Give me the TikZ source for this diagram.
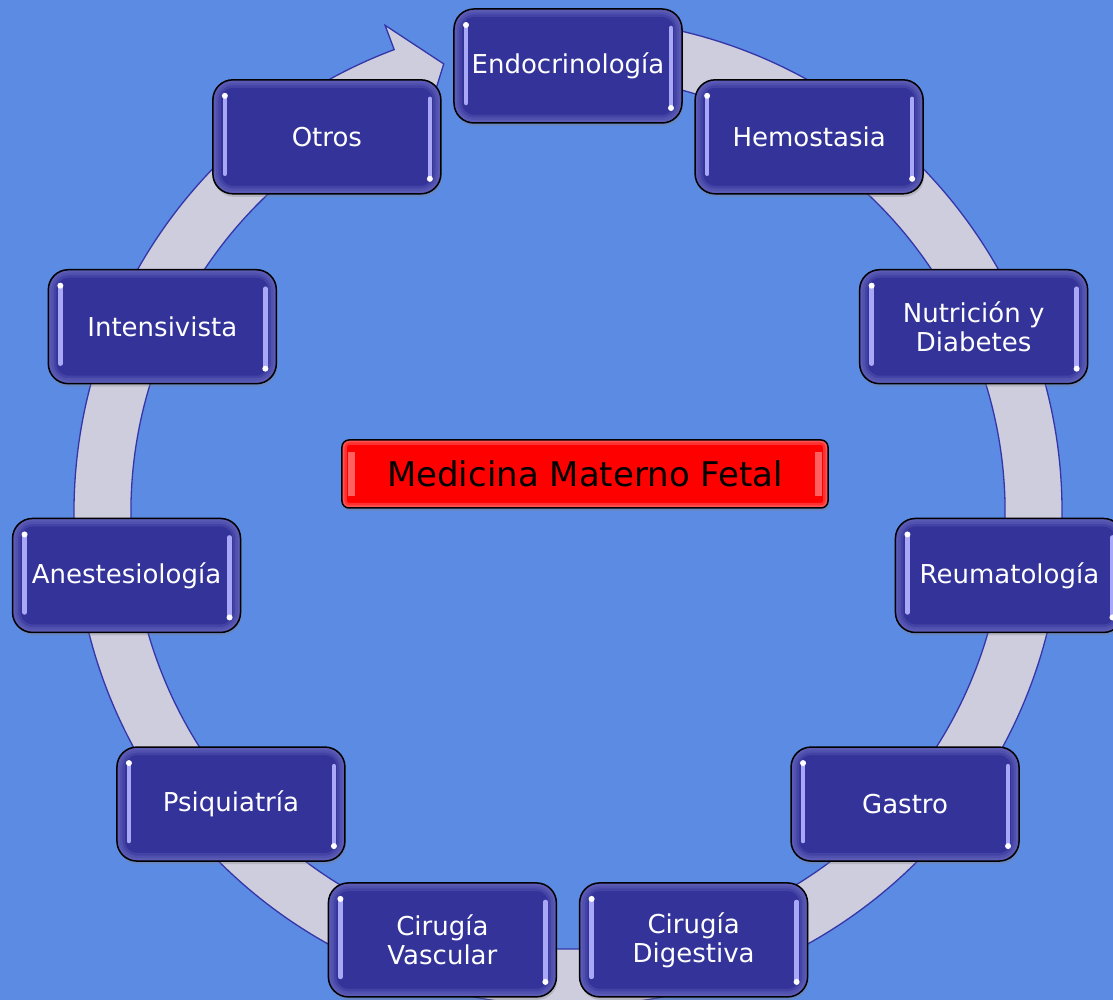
\documentclass[tikz,border=0pt]{standalone}
\usepackage{fontspec}
\setmainfont{DejaVu Sans}
\usetikzlibrary{positioning, calc, shadows}

\definecolor{bgblue}{HTML}{5B8BE2}
\definecolor{boxblue}{HTML}{333399}
\definecolor{boxglow}{HTML}{8080D0}
\definecolor{barlight}{HTML}{A8A8F6}
\definecolor{ringfill}{HTML}{CDCDDE}
\definecolor{ringline}{HTML}{3535A8}
\definecolor{hubglow}{HTML}{FFA0A0}

\tikzstyle{ringarrow}=[fill=ringfill, draw=ringline, line width=1.3pt, line join=miter]
\tikzstyle{specialty}=[draw=black, line width=1.5pt, fill=boxblue, rounded corners=20pt,
  minimum width=228pt, minimum height=114pt, text=white, align=center,
  font=\fontsize{26}{29}\selectfont,
  drop shadow={opacity=0.3, shadow xshift=1pt, shadow yshift=-3pt},
  path picture={%
    \foreach \w in {16,11,6}
      \draw[boxglow, opacity=0.22, line width=\w pt, rounded corners=20pt]
        (path picture bounding box.south west) rectangle (path picture bounding box.north east);
    % left bar, dot on top
    \draw[barlight, line width=4.5pt, line cap=round]
      ($(path picture bounding box.north west)+(12,-16)$) -- ($(path picture bounding box.south west)+(12,20)$);
    \fill[white] ($(path picture bounding box.north west)+(12,-16)$) circle (3pt);
    % right bar, dot at bottom
    \draw[barlight, line width=4.5pt, line cap=round]
      ($(path picture bounding box.north east)+(-11,-19)$) -- ($(path picture bounding box.south east)+(-11,15)$);
    \fill[white] ($(path picture bounding box.south east)+(-11,15)$) circle (3pt);
  }]
\tikzstyle{hub}=[draw=black, line width=1.5pt, fill=red, rounded corners=7pt,
  minimum width=486pt, minimum height=68pt, text=black,
  font=\fontsize{34}{38}\selectfont,
  drop shadow={opacity=0.3, shadow xshift=1pt, shadow yshift=-3pt},
  path picture={%
    \foreach \w in {10,5}
      \draw[hubglow, opacity=0.3, line width=\w pt, rounded corners=7pt]
        (path picture bounding box.south west) rectangle (path picture bounding box.north east);
    \draw[hubglow, opacity=0.6, line width=7pt]
      ($(path picture bounding box.north west)+(10,-12)$) -- ($(path picture bounding box.south west)+(10,12)$);
    \draw[hubglow, opacity=0.6, line width=7pt]
      ($(path picture bounding box.north east)+(-10,-12)$) -- ($(path picture bounding box.south east)+(-10,12)$);
  }]

\begin{document}
\begin{tikzpicture}[x=1pt, y=1pt]
        % background
        \fill[bgblue] (-568,-488) rectangle (545,512);
        \useasboundingbox (-568,-488) rectangle (545,512);

        % circular arrow
        \draw[ringarrow] (85:494) arc[start angle=85, end angle=-249.4, radius=494]
          -- (110.6:520) -- (105.5:465) -- (110.6:410) -- (110.6:437)
          arc[start angle=-249.4, end angle=85, radius=437] -- cycle;

        % centre
        \node[hub] (mmf) at (17,38) {Medicina Materno Fetal};

        % ring of specialties, clockwise from the top
        \node[specialty] (endo)   at (90:446)      {Endocrinología};
        \node[specialty] (hemo)   at (57.27:446)   {Hemostasia};
        \node[specialty] (nutri)  at (24.55:446)   {Nutrición y\\Diabetes};
        \node[specialty] (reuma)  at (-8.18:446)   {Reumatología};
        \node[specialty] (gastro) at (-40.91:446)  {Gastro};
        \node[specialty] (cdig)   at (-73.64:446)  {Cirugía\\Digestiva};
        \node[specialty] (cvasc)  at (-106.36:446) {Cirugía\\Vascular};
        \node[specialty] (psiq)   at (-139.09:446) {Psiquiatría};
        \node[specialty] (anest)  at (-171.82:446) {Anestesiología};
        \node[specialty] (inten)  at (155.45:446)  {Intensivista};
        \node[specialty] (otros)  at (122.73:446)  {Otros};
\end{tikzpicture}
\end{document}
